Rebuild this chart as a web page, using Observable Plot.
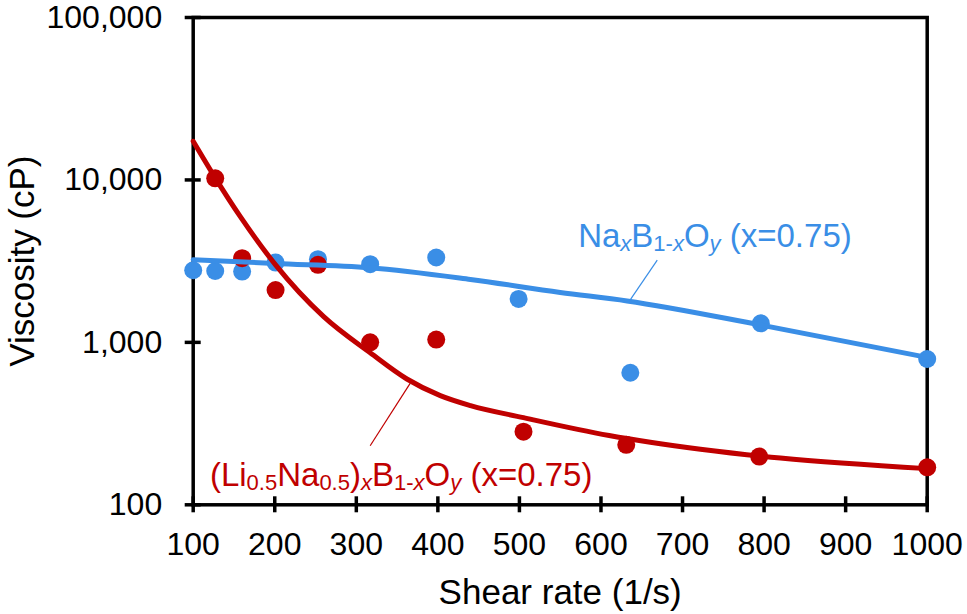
<!DOCTYPE html>
<html>
<head>
<meta charset="utf-8">
<script src="https://cdn.jsdelivr.net/npm/d3@7"></script>
<script src="https://cdn.jsdelivr.net/npm/@observablehq/plot@0.6"></script>
<style>
  html, body { margin: 0; padding: 0; background: #ffffff; }
  #chart svg { display: block; }
</style>
</head>
<body>
<div id="chart"></div>
<script>
// ---- Data ----
// NaxB1-xOy (x=0.75) measured points
const shearNa = [100, 127, 160, 201, 253, 317, 398, 499, 636, 796, 1000];
const viscNa  = [2780, 2750, 2730, 3100, 3250, 3030, 3330, 1850, 650, 1310, 790];
// (Li0.5Na0.5)xB1-xOy (x=0.75) measured points
const shearLiNa = [127, 160, 201, 253, 317, 398, 505, 631, 794, 1000];
const viscLiNa  = [10230, 3300, 2100, 3000, 1000, 1040, 282, 234, 198, 170];
// fitted curves
const fitNaShear = [100, 200, 317, 440, 550, 632, 796, 1000];
const fitNaVisc  = [3230, 3060, 2880, 2440, 2030, 1800, 1280, 808];
const fitLiNaShear = [100, 127, 158, 201, 260, 317, 362, 403, 440, 505, 610, 722, 820, 1000];
const fitLiNaVisc  = [17300, 10300, 5920, 3000, 1440, 863, 595, 470, 408, 344, 267, 220, 194, 167];
// axis ticks
const xTicks = [100, 200, 300, 400, 500, 600, 700, 800, 900, 1000];
const yTicks = [100, 1000, 10000, 100000];
// series labels (text parts: [text, isSubscript, isItalic]) and leader lines
const labelNaParts = [["Na", 0, 0], ["x", 1, 1], ["B", 0, 0], ["1-", 1, 0], ["x", 1, 1], ["O", 0, 0], ["y", 1, 1], [" (x=0.75)", 0, 0]];
const labelLiNaParts = [["(Li", 0, 0], ["0.5", 1, 0], ["Na", 0, 0], ["0.5", 1, 0], [")", 0, 0], ["x", 1, 1], ["B", 0, 0], ["1-", 1, 0], ["x", 1, 1], ["O", 0, 0], ["y", 1, 1], [" (x=0.75)", 0, 0]];
const labelShear = [572, 120.5];
const labelVisc  = [3870, 131.4];
const leaderShear1 = [669, 317];
const leaderVisc1  = [3206, 231];
const leaderShear2 = [635, 366];
const leaderVisc2  = [1802, 559];

const BLUE = "#3a8ee6";
const RED = "#c00000";

// ---- tables built from the arrays ----
const ptsNa = shearNa.map((s, i) => ({s, v: viscNa[i]}));
const ptsLiNa = shearLiNa.map((s, i) => ({s, v: viscLiNa[i]}));
const curveNa = fitNaShear.map((s, i) => ({s, v: fitNaVisc[i]}));
const curveLiNa = fitLiNaShear.map((s, i) => ({s, v: fitLiNaVisc[i]}));
const labelParts = [labelNaParts, labelLiNaParts];
const labelColors = [BLUE, RED];
const labels = labelParts.map((parts, i) => ({
  s: labelShear[i], v: labelVisc[i], color: labelColors[i],
  plain: parts.map(p => p[0]).join(""), parts
}));
const leaders = leaderShear1.map((s, i) => ({
  s1: s, v1: leaderVisc1[i], s2: leaderShear2[i], v2: leaderVisc2[i], color: labelColors[i]
}));

const FONT = "'Liberation Sans', Arial, Helvetica, sans-serif";

const W = 967, H = 614;
const M = {left: 192.7, right: 40.3, top: 17, bottom: 109.7};
const frameW = W - M.left - M.right;
const frameH = H - M.top - M.bottom;
const TICK_HALF = 8;

const chart = Plot.plot({
  width: W,
  height: H,
  marginLeft: M.left,
  marginRight: M.right,
  marginTop: M.top,
  marginBottom: M.bottom,
  style: {fontFamily: FONT, background: "#ffffff", color: "#000000", overflow: "visible"},
  x: {domain: [100, 1000]},
  y: {type: "log", domain: [100, 100000]},
  marks: [
    // tick marks straddling the axis lines
    Plot.tickX(xTicks, {x: d => d, stroke: "#000", strokeWidth: 3.5,
      insetTop: frameH - TICK_HALF, insetBottom: -TICK_HALF}),
    Plot.tickY(yTicks, {y: d => d, stroke: "#000", strokeWidth: 3.5,
      insetLeft: -TICK_HALF, insetRight: frameW - TICK_HALF}),
    // tick labels
    Plot.axisX({ticks: xTicks, tickSize: 0, tickPadding: 27, fontSize: 32, fill: "#000",
      tickFormat: d => String(d), label: null}),
    Plot.axisY({ticks: yTicks, tickSize: 0, tickPadding: 31, fontSize: 32, fill: "#000",
      tickFormat: d3.format(","), label: null}),
    // axis titles
    Plot.axisX({ticks: [], tickSize: 0, fontSize: 35, fill: "#000",
      label: "Shear rate (1/s)", labelAnchor: "center", labelArrow: "none", labelOffset: 99}),
    Plot.axisY({ticks: [], tickSize: 0, fontSize: 35, fill: "#000",
      label: "Viscosity (cP)", labelAnchor: "center", labelArrow: "none", labelOffset: 184}),
    Plot.frame({stroke: "#000", strokeWidth: 3.5}),
    // measured points
    Plot.dot(ptsNa, {x: "s", y: "v", r: 9, fill: BLUE}),
    Plot.dot(ptsLiNa, {x: "s", y: "v", r: 9, fill: RED}),
    // fitted curves
    Plot.line(curveNa, {x: "s", y: "v", stroke: BLUE, strokeWidth: 5, curve: "monotone-x"}),
    Plot.line(curveLiNa, {x: "s", y: "v", stroke: RED, strokeWidth: 5, curve: "monotone-x"}),
    // leader lines
    Plot.link(leaders, {x1: "s1", y1: "v1", x2: "s2", y2: "v2", stroke: "color", strokeWidth: 1.2}),
    // series labels
    Plot.text(labels, {x: "s", y: "v", text: "plain", fill: "color", fontSize: 33,
      textAnchor: "start", lineAnchor: "bottom"})
  ]
});

// rebuild the series labels with subscripts / italics as tspans
const SUB_SHIFT = 4;
d3.select(chart).selectAll("text").each(function () {
  const el = this;
  const lab = labels.find(l => l.plain === el.textContent);
  if (!lab) return;
  el.textContent = "";
  let shift = 0;
  for (const [t, sub, it] of lab.parts) {
    const ts = document.createElementNS("http://www.w3.org/2000/svg", "tspan");
    const target = sub ? SUB_SHIFT : 0;
    if (target !== shift) { ts.setAttribute("dy", target - shift); shift = target; }
    if (sub) ts.setAttribute("font-size", 22);
    if (it) ts.setAttribute("font-style", "italic");
    ts.textContent = t;
    el.appendChild(ts);
  }
});

document.getElementById("chart").appendChild(chart);
</script>
</body>
</html>
